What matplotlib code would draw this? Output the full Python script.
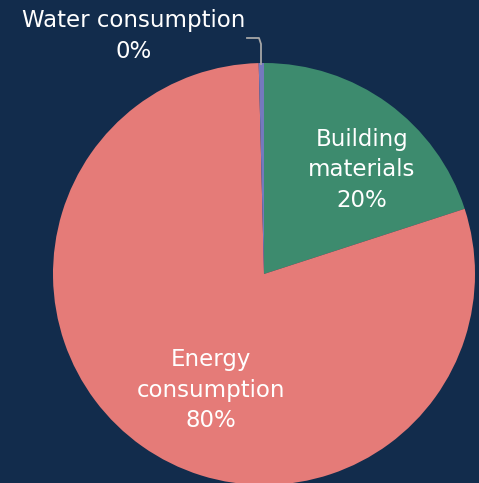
import matplotlib
matplotlib.use("Agg")
import matplotlib.pyplot as plt

categories = ["Building materials", "Energy consumption", "Water consumption"]
values = [20.0, 79.6, 0.4]
colors = ["#3d8b6e", "#e57b78", "#7479be"]
bg = "#122c4c"

W, H = 479, 483
fig = plt.figure(figsize=(W / 100, H / 100), dpi=100, facecolor=bg)
ax = fig.add_axes([0, 0, 1, 1])
ax.set_facecolor(bg)

cx, cy, R = 264, 274, 211

def px(x, y):
    return ((x - cx) / R, (cy - y) / R)

ax.pie(values, colors=colors, startangle=90, counterclock=False, radius=1.0,
       wedgeprops=dict(linewidth=0))
ax.set_xlim(-cx / R, (W - cx) / R)
ax.set_ylim((cy - H) / R, cy / R)
ax.set_aspect("auto")
ax.axis("off")

total = sum(values)
pcts = [f"{round(v / total * 100):.0f}%" for v in values]
font = dict(family="DejaVu Sans", color="white", fontsize=16.5, ha="center", va="center",
            linespacing=1.4)

x, y = px(362, 170)
ax.text(x, y, f"Building\nmaterials\n{pcts[0]}", **font)
x, y = px(211, 390)
ax.text(x, y, f"Energy\nconsumption\n{pcts[1]}", **font)
x, y = px(134, 36)
ax.text(x, y, f"{categories[2]}\n{pcts[2]}", **font)

pts = [px(247, 38), px(259, 38), px(261, 44), px(261, 64)]
ax.plot([p[0] for p in pts], [p[1] for p in pts], color="#a6a6a6", lw=1.3)

fig.savefig("out.png", dpi=100, facecolor=bg)
